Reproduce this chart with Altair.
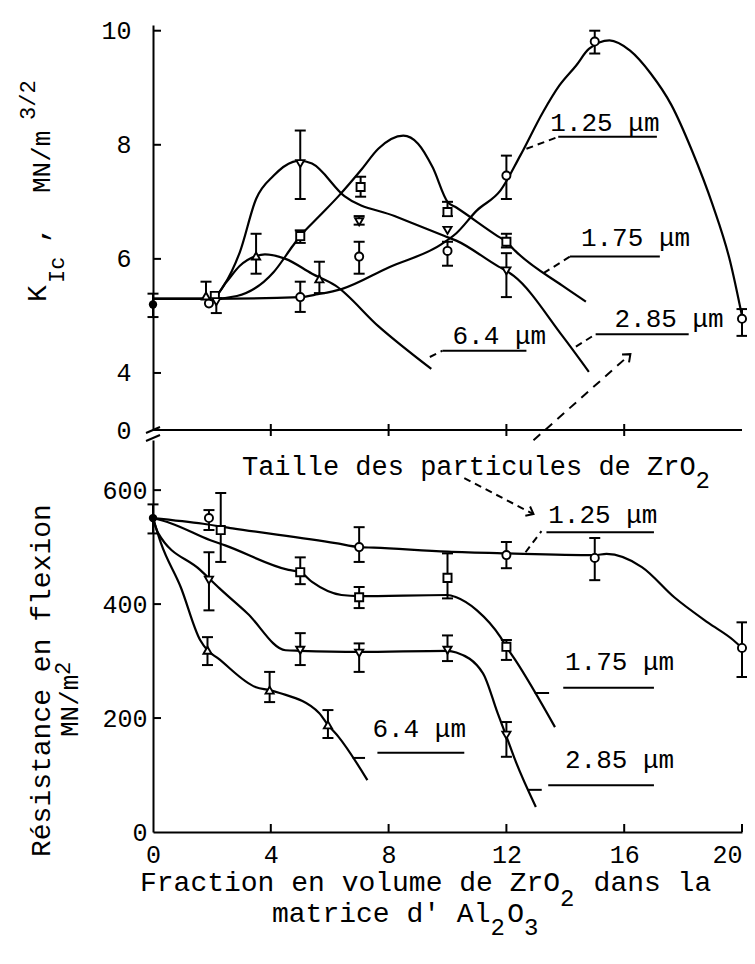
import altair as alt
import pandas as pd

FONT = "Liberation Mono"
SERIES = ["1.25", "1.75", "2.85", "6.4"]
SHAPES = ["circle", "square", "triangle-down", "triangle-up"]

# ---------- K_Ic (MN/m^3/2) : hand-drawn curves ----------
KC125_X = [0, 2, 5, 5.6, 6.4, 8.0, 9.8, 10.3, 11.0, 11.8, 12.47, 13.25, 13.8, 14.37, 14.8, 15.5, 16.2, 16.9, 17.6, 18.3, 19.0, 19.6, 20.0]
KC125_Y = [5.3, 5.3, 5.33, 5.38, 5.47, 5.85, 6.26, 6.45, 6.85, 7.2, 7.81, 8.58, 9.04, 9.39, 9.68, 9.83, 9.65, 9.25, 8.7, 7.9, 6.95, 5.95, 5.0]
KC175_X = [0, 2, 2.85, 4.1, 4.75, 5.0, 5.65, 6.3, 7.1, 7.65, 8.5, 9.0, 9.5, 10.0, 10.3, 11.7, 12.0, 12.3, 13.9, 14.7]
KC175_Y = [5.3, 5.3, 5.35, 5.77, 6.23, 6.4, 6.75, 7.1, 7.58, 7.93, 8.16, 8.02, 7.6, 7.0, 6.9, 6.4, 6.3, 6.14, 5.53, 5.25]
KC285_X = [0, 2, 2.4, 2.95, 3.5, 4.1, 4.75, 5.0, 5.4, 6.5, 8.2, 9.9, 10.3, 11.75, 12.0, 12.25, 13.9, 14.8]
KC285_Y = [5.3, 5.3, 5.53, 6.12, 7.05, 7.46, 7.7, 7.72, 7.67, 7.1, 6.75, 6.4, 6.32, 5.86, 5.79, 5.7, 4.65, 4.02]
KC64_X = [0, 2, 2.5, 2.95, 3.5, 3.8, 4.5, 5.4, 6.2, 7.65, 9.45]
KC64_Y = [5.3, 5.3, 5.6, 5.88, 6.05, 6.08, 6.0, 5.74, 5.53, 4.82, 4.07]

# K_Ic measured points (series, x, value, error low, error high)
KP_S = ["1.25", "1.75", "2.85", "6.4", "1.25", "1.25", "1.25", "1.25", "1.25", "1.25",
        "1.75", "1.75", "1.75", "1.75", "2.85", "2.85", "2.85", "2.85", "6.4", "6.4"]
KP_X = [1.9, 2.1, 2.15, 1.8, 5.0, 7.0, 10.0, 12.0, 15.0, 20.0,
        5.0, 7.05, 10.0, 12.0, 5.0, 7.0, 10.0, 12.0, 3.5, 5.65]
KP_Y = [5.22, 5.35, 5.25, 5.35, 5.33, 6.04, 6.14, 7.46, 9.81, 4.95,
        6.4, 7.26, 6.82, 6.30, 7.67, 6.65, 6.5, 5.79, 6.05, 5.65]
KP_LO = [None, None, 5.05, 5.3, 5.07, 5.74, 5.88, 7.05, 9.6, 4.65,
         6.28, 7.09, 6.75, 6.2, 7.05, 6.6, None, 5.33, 5.74, 5.4]
KP_HI = [None, None, 5.3, 5.6, 5.6, 6.3, 6.3, 7.81, 10.0, 5.12,
         6.5, 7.44, 7.0, 6.44, 8.25, 6.75, None, 6.1, 6.44, 5.95]
K_BASE = [0, 5.2, 4.98, 5.39]

# ---------- Résistance en flexion (MN/m^2) ----------
SC125_X = [0, 1.7, 2.7, 6.2, 7.0, 7.5, 10, 12, 15, 15.4, 16.6, 17.7, 18.86, 19.7, 20]
SC125_Y = [551, 541, 533, 507, 500, 499, 492, 489, 486, 488, 465, 412, 367, 337, 323]
SC175_X = [0, 0.6, 1.95, 2.45, 4.6, 5.0, 5.4, 6.4, 7.0, 10.0, 10.3, 11.0, 11.8, 12.0, 12.3, 13.65]
SC175_Y = [551, 542, 512, 503, 460, 456, 439, 416, 414, 416, 412, 389, 342, 325, 302, 184]
SC285_X = [0, 0.17, 1.6, 2.25, 3.2, 4.5, 5.0, 7.0, 10.0, 10.3, 11.2, 11.7, 12.0, 12.3, 13.0]
SC285_Y = [551, 525, 460, 428, 384, 319, 318, 316, 318, 315, 279, 209, 168, 126, 44]
SC64_X = [0, 0.27, 0.94, 1.6, 1.85, 2.2, 3.5, 3.96, 4.3, 5.64, 5.94, 6.3, 7.28]
SC64_Y = [551, 507, 430, 337, 319, 305, 254, 249, 244, 209, 188, 167, 91]

SP_S = ["1.25"] * 5 + ["1.75"] * 5 + ["2.85"] * 5 + ["6.4"] * 3
SP_X = [1.9, 7.0, 12.0, 15.0, 20.0, 2.3, 5.0, 7.0, 10.0, 12.0, 1.9, 5.0, 7.0, 10.0, 12.0, 1.85, 3.96, 5.94]
SP_Y = [551, 500, 486, 481, 323, 530, 456, 412, 446, 325, 442, 319, 314, 319, 170, 319, 249, 188]
SP_LO = [530, 474, 463, 442, 272, 474, 435, 393, 410, 302, 389, 293, 281, 300, 132, 293, 228, 165]
SP_HI = [565, 535, 509, 516, 368, 595, 482, 430, 489, 337, 491, 349, 331, 345, 193, 342, 281, 214]
S_BASE = [0, 551, 524, 575]

X_TICKS = [0, 4, 8, 12, 16, 20]
K_TICKS = [4, 6, 8, 10]
S_TICKS = [0, 200, 400, 600]

# ---------- geometry ----------
W = 589
H = 807
TOP_H = 405
BOT_TOP = 415

XS = alt.Scale(domain=[0, 20], nice=False, zero=False)
KS = alt.Scale(domain=[3.0, 10.1], range=[TOP_H, 0], nice=False, zero=False)
SS = alt.Scale(domain=[0, 688], range=[H, BOT_TOP], nice=False, zero=False)

X_AX = alt.Axis(values=X_TICKS, ticks=False, grid=False, title=None, labelFont=FONT,
                labelFontSize=25, labelColor="black", labelPadding=10, labelOverlap=False,
                labelAlign={"condition": {"test": "datum.value >= 20", "value": "right"}, "value": "center"},
                domainColor="black", domainWidth=2)
K_AX = alt.Axis(orient="left", values=[3] + K_TICKS, ticks=False, grid=False, title=None,
                labelExpr="datum.value == 3 ? '0' : datum.label", labelFont=FONT,
                labelFontSize=25, labelColor="black", labelPadding=22, domainColor="black",
                domainWidth=2, labelOverlap=False)
S_AX = alt.Axis(orient="left", values=S_TICKS, ticks=False, grid=False, title=None, labelFont=FONT,
                labelFontSize=25, labelColor="black", labelPadding=6, domainColor="black",
                domainWidth=2, labelOverlap=False)

DUMMY = alt.Data(values=[{"k": 0}])


def curves(xs_list, ys_list):
    rows = []
    for s, xs, ys in zip(SERIES, xs_list, ys_list):
        for x, y in zip(xs, ys):
            rows.append({"s": s, "x": x, "y": y})
    return pd.DataFrame(rows)


def xenc(f="x"):
    return alt.X(f"{f}:Q", scale=XS, axis=X_AX)


def panel(curve_df, pts_df, base, ys, yax):
    def yenc(f="y"):
        return alt.Y(f"{f}:Q", scale=ys, axis=yax)

    lines = alt.Chart(curve_df).mark_line(color="black", strokeWidth=2.2, interpolate="monotone").encode(
        x=xenc(), y=yenc(), detail="s:N")
    err_df = pts_df.dropna(subset=["lo"])
    err = alt.Chart(err_df).mark_rule(color="black", strokeWidth=2).encode(
        x=xenc(), y=yenc("lo"), y2="hi:Q")
    cap_lo = alt.Chart(err_df).mark_point(shape="M-1,0L1,0", size=121, filled=False, color="black",
                                          strokeWidth=2, opacity=1).encode(x=xenc(), y=yenc("lo"))
    cap_hi = alt.Chart(err_df).mark_point(shape="M-1,0L1,0", size=121, filled=False, color="black",
                                          strokeWidth=2, opacity=1).encode(x=xenc(), y=yenc("hi"))
    marks = alt.Chart(pts_df).mark_point(filled=True, fill="white", stroke="black", strokeWidth=1.9,
                                         size=66, opacity=1).encode(
        x=xenc(), y=yenc(),
        shape=alt.Shape("s:N", scale=alt.Scale(domain=SERIES, range=SHAPES), legend=None))
    bdf = pd.DataFrame({"x": [base[0]], "y": [base[1]], "lo": [base[2]], "hi": [base[3]]})
    berr = alt.Chart(bdf).mark_rule(color="black", strokeWidth=2).encode(x=xenc(), y=yenc("lo"), y2="hi:Q")
    bcap1 = alt.Chart(bdf).mark_point(shape="M-1,0L1,0", size=121, filled=False, color="black",
                                      strokeWidth=2, opacity=1).encode(x=xenc(), y=yenc("lo"))
    bcap2 = alt.Chart(bdf).mark_point(shape="M-1,0L1,0", size=121, filled=False, color="black",
                                      strokeWidth=2, opacity=1).encode(x=xenc(), y=yenc("hi"))
    bpt = alt.Chart(bdf).mark_point(shape="circle", filled=True, color="black", size=70, opacity=1).encode(
        x=xenc(), y=yenc())
    return [lines, err, cap_lo, cap_hi, marks, berr, bcap1, bcap2, bpt]


def pts(s, x, y, lo, hi):
    return pd.DataFrame({"s": s, "x": x, "y": y, "lo": lo, "hi": hi})


def xd(v):
    return alt.XDatum(v, scale=XS, axis=X_AX, type="quantitative")


def text_at(t, x, y, ys, yax, size=26, dx=0, dy=0):
    return alt.Chart(DUMMY).mark_text(text=t, font=FONT, fontSize=size, align="left",
                                      baseline="alphabetic", dx=dx, dy=dy, color="black").encode(
        x=xd(x), y=alt.YDatum(y, scale=ys, axis=yax, type="quantitative"))


def seg(x1, y1, x2, y2, ys, yax, dash=None):
    kw = {"color": "black", "strokeWidth": 2}
    if dash:
        kw["strokeDash"] = dash
    return alt.Chart(DUMMY).mark_rule(**kw).encode(
        x=xd(x1), y=alt.YDatum(y1, scale=ys, axis=yax, type="quantitative"),
        x2=alt.X2Datum(x2), y2=alt.Y2Datum(y2))


def head(x, y, ang, ys, yax):
    return alt.Chart(DUMMY).mark_point(shape="M-0.8,1L0,0L0.8,1", size=170, angle=ang, filled=False,
                                       color="black", strokeWidth=2, opacity=1).encode(
        x=xd(x), y=alt.YDatum(y, scale=ys, axis=yax, type="quantitative"))


def vtext(t, px, py, size):
    return alt.Chart(DUMMY).mark_text(text=t, font=FONT, fontSize=size, angle=270, align="left",
                                      baseline="alphabetic", color="black").encode(
        x=alt.value(px), y=alt.value(py))


def htext(t, px, py, size):
    return alt.Chart(DUMMY).mark_text(text=t, font=FONT, fontSize=size, align="left",
                                      baseline="alphabetic", color="black").encode(
        x=alt.value(px), y=alt.value(py))


DASH = [7, 5]

# ---------- top panel ----------
k_curves = curves([KC125_X, KC175_X, KC285_X, KC64_X], [KC125_Y, KC175_Y, KC285_Y, KC64_Y])
k_pts = pts(KP_S, KP_X, KP_Y, KP_LO, KP_HI)
top_layers = panel(k_curves, k_pts, K_BASE, KS, K_AX)

k_tick_df = pd.DataFrame({"v": K_TICKS})
top_layers.append(alt.Chart(k_tick_df).mark_rule(color="black", strokeWidth=2).encode(
    x=alt.value(0), x2=alt.value(8), y=alt.Y("v:Q", scale=KS, axis=K_AX)))
xt_df = pd.DataFrame({"v": X_TICKS[1:-1]})
top_layers.append(alt.Chart(xt_df).mark_rule(color="black", strokeWidth=2).encode(
    x=alt.X("v:Q", scale=XS, axis=X_AX), y=alt.value(TOP_H - 6), y2=alt.value(TOP_H + 6)))
top_layers.append(alt.Chart(DUMMY).mark_rule(color="black", strokeWidth=2).encode(
    x=alt.value(0), x2=alt.value(W), y=alt.value(TOP_H)))
# axis break marks
top_layers.append(alt.Chart(DUMMY).mark_rule(color="black", strokeWidth=2).encode(
    x=alt.value(-7), x2=alt.value(7), y=alt.value(TOP_H + 3), y2=alt.value(TOP_H - 3)))
top_layers.append(alt.Chart(DUMMY).mark_rule(color="black", strokeWidth=2).encode(
    x=alt.value(-7), x2=alt.value(7), y=alt.value(TOP_H + 11), y2=alt.value(TOP_H + 5)))

# annotations (top)
top_layers += [
    text_at("1.25 μm", 13.49, 8.25, KS, K_AX),
    seg(13.76, 8.14, 17.11, 8.14, KS, K_AX),
    seg(12.68, 7.93, 13.76, 8.14, KS, K_AX, DASH),
    text_at("1.75 μm", 14.53, 6.23, KS, K_AX),
    seg(14.16, 6.04, 17.21, 6.04, KS, K_AX),
    seg(13.26, 5.75, 14.16, 6.04, KS, K_AX, DASH),
    text_at("2.85 μm", 15.67, 4.81, KS, K_AX),
    seg(15.03, 4.68, 18.19, 4.68, KS, K_AX),
    seg(14.36, 4.46, 15.03, 4.68, KS, K_AX, DASH),
    text_at("6.4 μm", 10.17, 4.51, KS, K_AX),
    seg(9.83, 4.39, 12.68, 4.39, KS, K_AX),
    seg(9.4, 4.28, 9.83, 4.39, KS, K_AX, DASH),
    seg(12.92, 2.82, 16.21, 4.33, KS, K_AX, [9, 7]),
    head(16.21, 4.33, 48, KS, K_AX),
]

# rotated axis titles (pixel positions, plot origin = top-left of upper panel)
top_layers += [
    vtext("K", -107, 277, 28),
    vtext("Ic", -89, 258, 22),
    vtext(",", -107, 218, 28),
    vtext("MN/m", -103, 168, 26),
    vtext("3/2", -118, 95, 22),
    vtext("Résistance en flexion", -103, 832, 28),
    vtext("MN/m", -75, 712, 26),
    vtext("2", -83, 650, 22),
]
# x-axis title
CW = 0.6 * 28
L1 = 866
L2 = 897
top_layers += [
    htext("Fraction en volume de ZrO", -13, L1, 28),
    htext("2", -13 + 25 * CW, L1 + 15, 24),
    htext("dans la", -13 + 27 * CW, L1, 28),
    htext("matrice d' Al", 119, L2, 28),
    htext("2", 119 + 13 * CW, L2 + 13, 24),
    htext("O", 119 + 14 * CW, L2, 28),
    htext("3", 119 + 15 * CW, L2 + 13, 24),
]

top = alt.layer(*top_layers)

# ---------- bottom panel ----------
s_curves = curves([SC125_X, SC175_X, SC285_X, SC64_X], [SC125_Y, SC175_Y, SC285_Y, SC64_Y])
s_pts = pts(SP_S, SP_X, SP_Y, SP_LO, SP_HI)
bot_layers = panel(s_curves, s_pts, S_BASE, SS, S_AX)

s_tick_df = pd.DataFrame({"v": S_TICKS[1:]})
bot_layers.append(alt.Chart(s_tick_df).mark_rule(color="black", strokeWidth=2).encode(
    x=alt.value(0), x2=alt.value(8), y=alt.Y("v:Q", scale=SS, axis=S_AX)))
xb_df = pd.DataFrame({"v": X_TICKS[1:]})
bot_layers.append(alt.Chart(xb_df).mark_rule(color="black", strokeWidth=2).encode(
    x=alt.X("v:Q", scale=XS, axis=X_AX), y=alt.value(H - 8), y2=alt.value(H)))

TS = 27
bot_layers += [
    text_at("Taille des particules de ZrO", 3.02, 626, SS, S_AX, size=TS),
    text_at("2", 3.02, 626, SS, S_AX, size=24, dx=28 * 0.6 * TS, dy=13),
    seg(10.57, 621, 12.92, 558, SS, S_AX, DASH),
    head(12.92, 558, 117, SS, S_AX),
    text_at("1.25 μm", 13.42, 542, SS, S_AX),
    seg(13.36, 526, 17.01, 526, SS, S_AX),
    seg(12.65, 491, 13.19, 528, SS, S_AX, DASH),
    text_at("1.75 μm", 13.99, 284, SS, S_AX),
    seg(13.93, 253, 17.01, 253, SS, S_AX),
    seg(12.96, 244, 13.45, 244, SS, S_AX),
    text_at("2.85 μm", 13.99, 112, SS, S_AX),
    seg(13.42, 82, 17.01, 82, SS, S_AX),
    seg(12.74, 74, 13.2, 74, SS, S_AX),
    text_at("6.4 μm", 7.45, 167, SS, S_AX),
    seg(7.62, 139, 10.57, 139, SS, S_AX),
    seg(6.78, 130, 7.2, 130, SS, S_AX),
]

bottom = alt.layer(*bot_layers)

chart = alt.layer(top, bottom).resolve_scale(y="independent").properties(
    width=W, height=H,
    autosize=alt.AutoSizeParams(type="none"),
    padding={"left": 145, "top": 17, "right": 5, "bottom": 118}
).configure(background="white").configure_view(stroke=None)

chart.save("out.html", embed_options={"renderer": "svg", "actions": False})
